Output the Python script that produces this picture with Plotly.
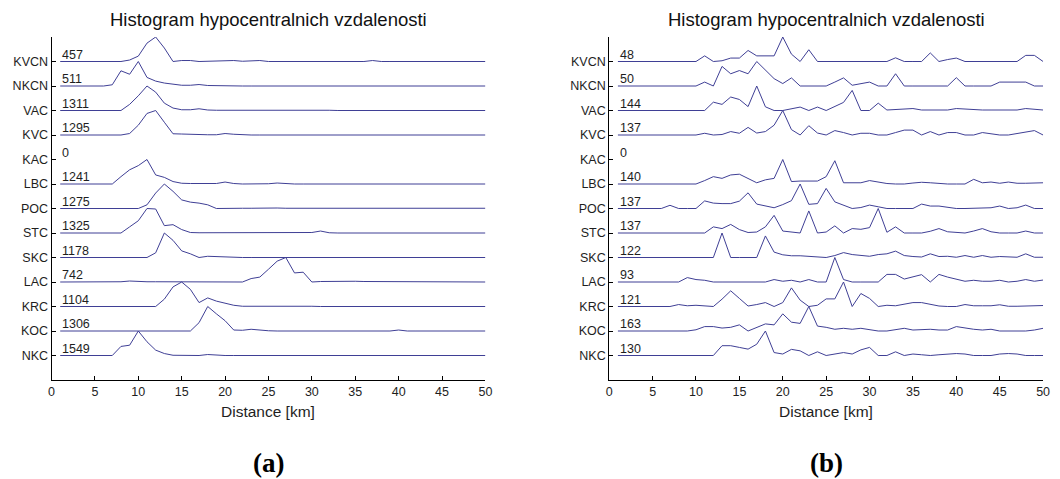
import plotly.graph_objects as go

km = list(range(1, 51))
stations = ["NKC", "KOC", "KRC", "LAC", "SKC", "STC", "POC", "LBC", "KAC", "KVC", "VAC", "NKCN", "KVCN"]
x_ticks = [0, 5, 10, 15, 20, 25, 30, 35, 40, 45, 50]

counts_a = [1549, 1306, 1104, 742, 1178, 1325, 1275, 1241, 0, 1295, 1311, 511, 457]
counts_b = [130, 163, 121, 93, 122, 137, 137, 140, 0, 137, 144, 50, 48]

# ---- panel (a): normalised histograms (max = 1), 1-km bins 1..50 ----
a_KVCN = [0, 0, 0, 0, 0, 0, 0, 0, 0.06, 0.22,
          0.75, 1.0, 0.55, 0.0, 0.04, 0.04, 0.0, 0.01, 0.02, 0.04,
          0.04, 0.01, 0.04, 0.04, 0, 0, 0, 0, 0, 0,
          0, 0, 0, 0, 0, 0, 0.04, 0, 0, 0,
          0, 0, 0, 0, 0, 0, 0, 0, 0, 0]
a_NKCN = [0, 0, 0, 0, 0, 0, 0.05, 0.62, 0.48, 1.0,
          0.35, 0.2, 0.12, 0.06, 0.03, 0.03, 0.06, 0.02, 0.01, 0.01,
          0, 0, 0, 0, 0, 0, 0, 0, 0, 0,
          0, 0, 0, 0, 0, 0, 0, 0, 0, 0,
          0, 0, 0, 0, 0, 0, 0, 0, 0, 0]
a_VAC = [0, 0, 0, 0, 0, 0, 0, 0, 0.25, 0.6,
         1.0, 0.75, 0.3, 0.1, 0.03, 0.03, 0.07, 0.02, 0.01, 0.01,
         0.01, 0.01, 0.01, 0.01, 0.01, 0.01, 0.04, 0.01, 0.01, 0.01,
         0.04, 0.01, 0, 0, 0, 0, 0, 0, 0, 0,
         0, 0, 0, 0, 0, 0, 0, 0, 0, 0]
a_KVC = [0, 0, 0, 0, 0, 0, 0, 0, 0.06, 0.4,
         0.88, 1.0, 0.52, 0.05, 0.04, 0.02, 0, 0.01, 0.01, 0.06,
         0.03, 0, 0, 0, 0, 0, 0, 0, 0, 0,
         0, 0, 0, 0, 0, 0, 0, 0, 0, 0,
         0, 0, 0, 0, 0, 0, 0, 0, 0, 0]
a_KAC = [None] * 50
a_LBC = [0, 0, 0, 0, 0, 0, 0, 0.3, 0.58, 0.75,
         1.0, 0.37, 0.27, 0.1, 0.03, 0.02, 0.01, 0.01, 0.02, 0.08,
         0.02, 0, 0, 0, 0.01, 0.04, 0.01, 0, 0, 0,
         0, 0, 0, 0, 0, 0, 0, 0, 0, 0,
         0, 0, 0, 0, 0, 0, 0, 0, 0, 0]
a_POC = [0, 0, 0, 0, 0, 0, 0, 0, 0, 0,
         0.15, 0.63, 1.0, 0.7, 0.35, 0.26, 0.22, 0.15, 0.0, 0.01,
         0.03, 0.01, 0.01, 0.02, 0.01, 0.02, 0.01, 0.01, 0.02, 0.01,
         0.01, 0.02, 0.01, 0.03, 0.01, 0.01, 0.02, 0.01, 0.02, 0.01,
         0.02, 0.01, 0.01, 0.02, 0.01, 0.01, 0.01, 0.03, 0.01, 0.01]
a_STC = [0, 0, 0, 0, 0, 0, 0, 0, 0.25, 0.5,
         1.0, 0.98, 0.3, 0.34, 0.14, 0.02, 0.01, 0.01, 0.01, 0.01,
         0.01, 0.01, 0.01, 0.02, 0.01, 0.01, 0.01, 0.01, 0.01, 0.02,
         0.08, 0.01, 0, 0, 0, 0, 0, 0, 0, 0,
         0, 0, 0, 0, 0, 0, 0, 0, 0, 0]
a_SKC = [0, 0, 0, 0, 0, 0, 0, 0, 0, 0,
         0, 0.19, 1.0, 0.7, 0.27, 0.15, 0.0, 0.05, 0.03, 0.01,
         0, 0, 0, 0, 0, 0, 0, 0, 0, 0,
         0, 0, 0, 0, 0, 0, 0, 0, 0, 0,
         0, 0, 0, 0, 0, 0, 0, 0, 0, 0]
a_LAC = [0, 0, 0, 0, 0, 0, 0, 0.01, 0.04, 0.01,
         0.01, 0.01, 0.01, 0.01, 0.01, 0.01, 0.01, 0.01, 0.01, 0.01,
         0.01, 0.0, 0.14, 0.2, 0.52, 0.85, 1.0, 0.37, 0.4, 0.0,
         0.02, 0.03, 0.02, 0.02, 0.03, 0.02, 0.02, 0.01, 0.02, 0.01,
         0, 0, 0, 0, 0, 0, 0, 0, 0, 0]
a_KRC = [0, 0, 0, 0, 0, 0, 0, 0, 0, 0,
         0, 0, 0.3, 0.8, 1.0, 0.7, 0.16, 0.35, 0.22, 0.12,
         0.05, 0.01, 0.01, 0.01, 0.01, 0.02, 0.04, 0.01, 0.04, 0.01,
         0, 0, 0, 0, 0, 0, 0, 0, 0, 0,
         0, 0, 0, 0, 0, 0, 0, 0, 0, 0]
a_KOC = [0, 0, 0, 0, 0, 0, 0, 0, 0, 0,
         0, 0, 0, 0, 0.01, 0, 0.34, 1.0, 0.7, 0.42,
         0.04, 0.03, 0.07, 0.03, 0.01, 0, 0, 0, 0, 0,
         0, 0, 0, 0, 0, 0, 0, 0, 0, 0.04,
         0, 0, 0, 0, 0, 0, 0, 0, 0, 0]
a_NKC = [0, 0, 0, 0, 0, 0, 0, 0.37, 0.42, 1.0,
         0.56, 0.22, 0.08, 0.01, 0, 0, 0, 0.04, 0.01, 0,
         0, 0, 0, 0, 0, 0, 0, 0, 0, 0,
         0, 0, 0, 0, 0, 0, 0, 0, 0, 0,
         0, 0, 0, 0, 0, 0, 0, 0, 0, 0]

# ---- panel (b) ----
b_KVCN = [0, 0, 0, 0, 0, 0, 0, 0, 0, 0,
          0.23, 0, 0.03, 0.14, 0.14, 0.45, 0.23, 0.23, 0.23, 1.0,
          0.3, 0, 0.48, 0, 0, 0, 0, 0, 0, 0,
          0, 0, 0.15, 0, 0, 0, 0.35, 0, 0.08, 0.14,
          0, 0, 0, 0, 0, 0, 0, 0.25, 0.25, 0]
b_NKCN = [0, 0, 0, 0, 0, 0, 0, 0, 0, 0,
          0.16, 0.0, 0.8, 0.5, 0.63, 0.5, 1.0, 0.64, 0.3, 0.1,
          0.33, 0, 0, 0, 0, 0.16, 0.33, 0.03, 0.08, 0.16,
          0, 0, 0.5, 0, 0, 0, 0, 0, 0, 0.34,
          0, 0, 0, 0, 0.16, 0.16, 0.16, 0.16, 0, 0]
b_VAC = [0, 0, 0, 0, 0, 0, 0, 0, 0, 0,
         0, 0.34, 0.25, 0.55, 0.45, 0.16, 1.0, 0.15, 0, 0,
         0.07, 0.14, 0.0, 0.14, 0.0, 0.15, 0.33, 0.82, 0.0, 0.0,
         0.3, 0.02, 0.04, 0.05, 0.08, 0.02, 0.02, 0.02, 0.02, 0.08,
         0.05, 0.02, 0.02, 0.02, 0.02, 0.04, 0.02, 0.08, 0.05, 0.02]
b_KVC = [0, 0, 0, 0, 0, 0, 0, 0, 0, 0,
         0.07, 0, 0.02, 0.14, 0.07, 0.31, 0.08, 0.14, 0.4, 1.0,
         0.22, 0, 0.38, 0.08, 0, 0.18, 0.1, 0, 0.07, 0.07,
         0, 0, 0.1, 0.2, 0.2, 0, 0.14, 0, 0.1, 0.1,
         0, 0, 0.1, 0.05, 0, 0, 0.07, 0.12, 0.18, 0]
b_KAC = [None] * 50
b_LBC = [0, 0, 0, 0, 0, 0, 0, 0, 0, 0,
         0.14, 0.3, 0.23, 0.37, 0.4, 0.23, 0.05, 0.17, 0.23, 1.0,
         0.1, 0.12, 0.12, 0.12, 0.3, 0.95, 0.05, 0.05, 0.05, 0.14,
         0.08, 0.02, 0, 0, 0.04, 0.07, 0.05, 0.02, 0, 0,
         0, 0.19, 0.05, 0.08, 0.03, 0.08, 0.03, 0.03, 0.03, 0.05]
b_POC = [0, 0, 0, 0, 0, 0, 0.13, 0, 0, 0,
         0.31, 0.22, 0.2, 0.2, 0.3, 0.64, 0.18, 0.1, 0.03, 0.16,
         0.32, 1.0, 0.17, 0.2, 0.82, 0.27, 0.14, 0, 0.04, 0.14,
         0.07, 0, 0, 0, 0, 0.18, 0.1, 0.1, 0.04, 0,
         0, 0, 0, 0.03, 0.1, 0, 0.03, 0.14, 0, 0]
b_STC = [0, 0, 0, 0, 0, 0, 0, 0, 0, 0,
         0, 0.25, 0.18, 0.35, 0.14, 0.02, 0.04, 0.25, 0.72, 0.08,
         0.04, 0, 0.9, 0, 0.04, 0.29, 0, 0.18, 0.15, 0.22,
         1.0, 0.03, 0.25, 0, 0, 0, 0.07, 0.18, 0.05, 0.02,
         0, 0.08, 0.18, 0.05, 0, 0, 0, 0.08, 0, 0]
b_SKC = [0, 0, 0, 0, 0, 0.02, 0.02, 0, 0.02, 0,
         0, 0, 1.0, 0, 0, 0, 0, 0.88, 0.22, 0.11,
         0.07, 0.07, 0.05, 0.02, 0, 0.08, 0.2, 0.12, 0.08, 0.05,
         0.12, 0.15, 0.26, 0.08, 0.04, 0.02, 0.15, 0.04, 0.05, 0.01,
         0.08, 0.01, 0.08, 0.01, 0.04, 0.04, 0.01, 0.15, 0.01, 0.01]
b_LAC = [0, 0, 0, 0, 0, 0, 0, 0, 0.18, 0.1,
         0.07, 0, 0, 0, 0, 0, 0, 0, 0.1, 0.03,
         0.07, 0, 0.1, 0, 0, 1.0, 0.1, 0, 0, 0,
         0, 0.31, 0.31, 0.12, 0.2, 0.3, 0, 0.31, 0.2, 0.13,
         0.03, 0.07, 0.03, 0.03, 0.07, 0, 0.03, 0.1, 0.03, 0.08]
b_KRC = [0, 0, 0, 0, 0, 0, 0, 0.08, 0.03, 0.05,
         0.03, 0, 0.3, 0.64, 0.33, 0.02, 0.08, 0.16, 0, 0.16,
         0.76, 0.26, 0, 0.05, 0.31, 0.31, 1.0, 0, 0.53, 0.33,
         0, 0.05, 0.03, 0.08, 0.16, 0.16, 0.1, 0.02, 0, 0,
         0.08, 0.03, 0.03, 0.03, 0.07, 0.01, 0.01, 0.03, 0.03, 0.04]
b_KOC = [0, 0, 0, 0, 0, 0, 0, 0, 0, 0.05,
         0.18, 0.18, 0.12, 0.15, 0.25, 0, 0.14, 0.29, 0.25, 0.7,
         0.36, 0.31, 1.0, 0.2, 0.15, 0.07, 0.11, 0.07, 0.11, 0.07,
         0, 0, 0.06, 0.11, 0.04, 0.07, 0.07, 0.04, 0.04, 0.18,
         0.11, 0.07, 0.04, 0.07, 0, 0, 0, 0, 0.04, 0.11]
b_NKC = [0, 0, 0, 0, 0, 0, 0, 0, 0, 0,
         0, 0, 0.4, 0.4, 0.33, 0.26, 0.46, 1.0, 0.12, 0.06,
         0.25, 0.19, 0, 0.15, 0, 0.06, 0.12, 0.06, 0.23, 0.33,
         0, 0, 0.15, 0, 0.06, 0.03, 0, 0.03, 0.06, 0.08,
         0.06, 0, 0, 0, 0.06, 0.08, 0.06, 0, 0, 0]

series_a = [a_NKC, a_KOC, a_KRC, a_LAC, a_SKC, a_STC, a_POC, a_LBC, a_KAC, a_KVC, a_VAC, a_NKCN, a_KVCN]
series_b = [b_NKC, b_KOC, b_KRC, b_LAC, b_SKC, b_STC, b_POC, b_LBC, b_KAC, b_KVC, b_VAC, b_NKCN, b_KVCN]

LINE = "#3f3f95"
FONT = "Liberation Sans, Arial, sans-serif"
TXT = "#1e1e1e"

fig = go.Figure()
annotations = []
for panel, (series, counts, xa, ya) in enumerate([(series_a, counts_a, "x", "y"),
                                                  (series_b, counts_b, "x2", "y2")]):
    for i, (name, vals, cnt) in enumerate(zip(stations, series, counts)):
        base = i + 1
        yv = [None if v is None else base + v for v in vals]
        fig.add_trace(go.Scatter(x=km, y=yv, mode="lines", xaxis=xa, yaxis=ya,
                                 line=dict(color=LINE, width=1), showlegend=False,
                                 hoverinfo="skip"))
        annotations.append(dict(x=1, y=base, xref=xa, yref=ya, text=str(cnt),
                                xanchor="left", yanchor="bottom", yshift=-2, showarrow=False,
                                font=dict(family=FONT, size=12.5, color=TXT)))

xdom_a = [49 / 1060, 487 / 1060]
xdom_b = [612 / 1060, 1050 / 1060]
ydom = [1 - 380 / 479, 1 - 37 / 479]

for (dom, lbl) in [(xdom_a, "(a)"), (xdom_b, "(b)")]:
    cx = (dom[0] + dom[1]) / 2
    annotations.append(dict(x=cx, y=1 - 19 / 479, xref="paper", yref="paper",
                            text="Histogram hypocentralnich vzdalenosti", showarrow=False,
                            xanchor="center", yanchor="middle",
                            font=dict(family=FONT, size=18.5, color="#111")))
    annotations.append(dict(x=cx, y=1 - 411 / 479, xref="paper", yref="paper",
                            text="Distance [km]", showarrow=False,
                            xanchor="center", yanchor="middle",
                            font=dict(family=FONT, size=15.5, color=TXT)))
    annotations.append(dict(x=cx, y=1 - 463 / 479, xref="paper", yref="paper",
                            text="<b>" + lbl + "</b>", showarrow=False,
                            xanchor="center", yanchor="middle",
                            font=dict(family="Liberation Serif, Times New Roman, serif", size=27, color="#000")))

xaxis_common = dict(range=[0, 50], tickvals=x_ticks, ticks="inside", ticklen=4,
                    tickcolor="#000", showline=True, linecolor="#000", linewidth=1,
                    showgrid=False, zeroline=False,
                    tickfont=dict(family=FONT, size=12.5, color=TXT))
yaxis_common = dict(range=[0, 14], tickvals=list(range(1, 14)), ticktext=stations,
                    ticks="inside", ticklen=4, tickcolor="#000", showline=True,
                    linecolor="#000", linewidth=1, showgrid=False, zeroline=False,
                    tickfont=dict(family=FONT, size=12.5, color=TXT), domain=ydom)

fig.update_layout(
    width=1060, height=479, autosize=False,
    margin=dict(l=0, r=0, t=0, b=0),
    paper_bgcolor="white", plot_bgcolor="white",
    xaxis=dict(domain=xdom_a, anchor="y", **xaxis_common),
    yaxis=dict(anchor="x", **yaxis_common),
    xaxis2=dict(domain=xdom_b, anchor="y2", **xaxis_common),
    yaxis2=dict(anchor="x2", **yaxis_common),
    annotations=annotations,
)

fig.write_html("out.html")
